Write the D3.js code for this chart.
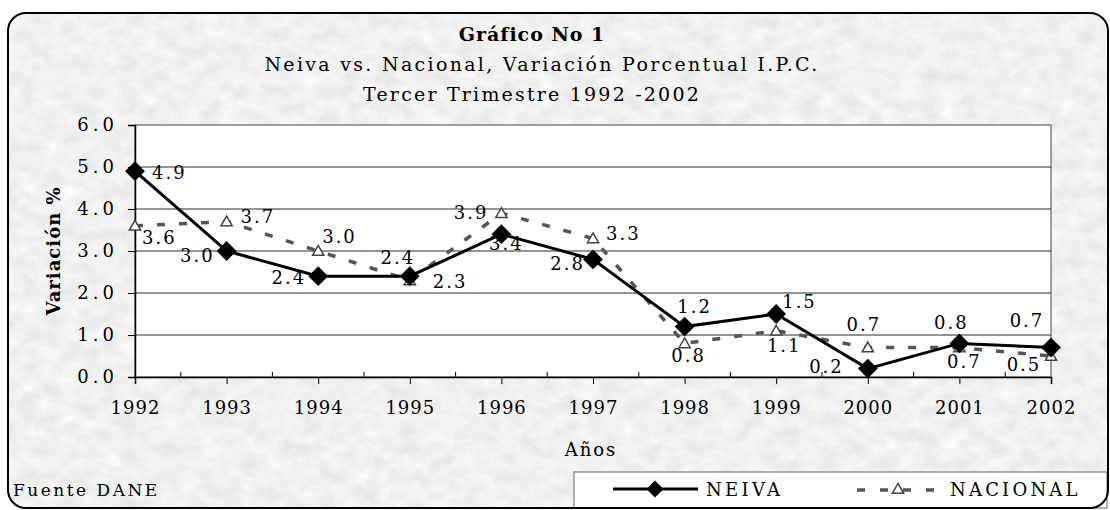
<!DOCTYPE html>
<html>
<head>
<meta charset="utf-8">
<script src="https://cdn.jsdelivr.net/npm/d3@7"></script>
<style>
  body { margin: 0; background: #fff; }
  text { font-family: "DejaVu Serif", serif; fill: #000; }
</style>
</head>
<body>
<script>

// data
var years = ["1992", "1993", "1994", "1995", "1996", "1997", "1998", "1999", "2000", "2001", "2002"];
var neiva = [4.9, 3.0, 2.4, 2.4, 3.4, 2.8, 1.2, 1.5, 0.2, 0.8, 0.7];
var nacional = [3.6, 3.7, 3.0, 2.3, 3.9, 3.3, 0.8, 1.1, 0.7, 0.7, 0.5];
var yTicks = [0, 1, 2, 3, 4, 5, 6];

// where each data label sits next to its point (dx, dy, anchor)
var neivaLabelPos = [[17, 8, "start"], [-12, 11, "end"], [-12, 8, "end"], [-12, -12, "middle"], [5, 16, "middle"],
                     [-8, 11, "end"], [10, -14, "middle"], [6, -6, "start"], [-24, 4, "end"], [-8, -14, "middle"], [-24, -21, "middle"]];
var nacionalLabelPos = [[7, 18, "start"], [14, 1, "start"], [4, -8, "start"], [23, 8, "start"], [-13, 6, "end"],
                        [13, 2, "start"], [4, 19, "middle"], [8, 21, "middle"], [-4, -17, "middle"], [5, 20, "middle"], [-27, 15, "middle"]];

var width = 1110;
var height = 510;
var margin = {left: 135, right: 59, top: 125, bottom: 133};

var svg = d3.select("body")
            .append("svg")
            .attr("width", width)
            .attr("height", height);

// marble like grey paper for the chart background
var defs = svg.append("defs");
var filter = defs.append("filter")
                 .attr("id", "marble")
                 .attr("x", 0).attr("y", 0)
                 .attr("width", "100%").attr("height", "100%");
filter.append("feTurbulence")
      .attr("type", "fractalNoise")
      .attr("baseFrequency", "0.05 0.07")
      .attr("numOctaves", 4)
      .attr("seed", 7);
filter.append("feColorMatrix")
      .attr("type", "matrix")
      .attr("values", "0.24 0 0 0 0.755  0.24 0 0 0 0.755  0.24 0 0 0 0.755  0 0 0 0 1");
filter.append("feComposite")
      .attr("in2", "SourceGraphic")
      .attr("operator", "in");

svg.append("rect")
   .attr("x", 8).attr("y", 13)
   .attr("width", 1100).attr("height", 495)
   .attr("rx", 18).attr("ry", 18)
   .attr("fill", "#dcdcdc")
   .attr("filter", "url(#marble)");

// scales
var xScale = d3.scalePoint()
               .domain(years)
               .range([margin.left, width - margin.right]);

var yScale = d3.scaleLinear()
               .domain([0, 6])
               .range([height - margin.bottom, margin.top]);

// white plot area
svg.append("rect")
   .attr("x", margin.left)
   .attr("y", margin.top)
   .attr("width", width - margin.right - margin.left)
   .attr("height", yScale(0) - margin.top)
   .attr("fill", "#fff")
   .attr("stroke", "#808080")
   .attr("stroke-width", 1.5);

// gridlines
svg.selectAll("line.grid")
   .data(yTicks.slice(1, 6))
   .enter()
   .append("line")
   .attr("class", "grid")
   .attr("x1", margin.left)
   .attr("x2", width - margin.right)
   .attr("y1", function(d) { return yScale(d); })
   .attr("y2", function(d) { return yScale(d); })
   .attr("stroke", "#2a2a2a")
   .attr("stroke-width", 1);

// y axis
var yAxis = d3.axisLeft(yScale)
              .tickValues(yTicks)
              .tickFormat(d3.format(".1f"))
              .tickSizeOuter(0)
              .tickSize(7)
              .tickPadding(10);

var yG = svg.append("g")
            .attr("transform", "translate(" + margin.left + ",0)")
            .call(yAxis);
yG.select(".domain").attr("stroke", "#000").attr("stroke-width", 1.5);
yG.selectAll("text")
  .style("font-family", "DejaVu Serif")
  .style("font-size", "18px")
  .style("letter-spacing", "4px")
  .attr("fill", "#000");

// x axis, major ticks outside on the years
var xAxis = d3.axisBottom(xScale)
              .tickSizeOuter(0)
              .tickSize(7)
              .tickPadding(17);

var xG = svg.append("g")
            .attr("transform", "translate(0," + yScale(0) + ")")
            .call(xAxis);
xG.select(".domain").attr("stroke", "#000").attr("stroke-width", 1.5);
xG.selectAll("text")
  .style("font-family", "DejaVu Serif")
  .style("font-size", "18px")
  .style("letter-spacing", "1px")
  .attr("fill", "#000");

// minor ticks inside, between the years
var step = xScale.step();
svg.selectAll("line.minor")
   .data(years.slice(1))
   .enter()
   .append("line")
   .attr("class", "minor")
   .attr("x1", function(d) { return xScale(d) - step / 2; })
   .attr("x2", function(d) { return xScale(d) - step / 2; })
   .attr("y1", yScale(0))
   .attr("y2", yScale(0) - 5)
   .attr("stroke", "#000");

// nacional dashed line with open triangles
var line = d3.line()
             .x(function(d, i) { return xScale(years[i]); })
             .y(function(d) { return yScale(d); });

svg.append("path")
   .datum(nacional)
   .attr("d", line)
   .attr("fill", "none")
   .attr("stroke", "#555")
   .attr("stroke-width", 3.5)
   .attr("stroke-dasharray", "8,14");

var triangle = d3.symbol().type(d3.symbolTriangle).size(55);

svg.selectAll("path.tri")
   .data(nacional)
   .enter()
   .append("path")
   .attr("class", "tri")
   .attr("d", triangle)
   .attr("transform", function(d, i) {
     return "translate(" + xScale(years[i]) + "," + (yScale(d) + 1) + ")";
   })
   .attr("fill", "#fff")
   .attr("stroke", "#444")
   .attr("stroke-width", 1.5);

// neiva solid line with diamonds
svg.append("path")
   .datum(neiva)
   .attr("d", line)
   .attr("fill", "none")
   .attr("stroke", "#000")
   .attr("stroke-width", 3);

svg.selectAll("rect.dia")
   .data(neiva)
   .enter()
   .append("rect")
   .attr("class", "dia")
   .attr("x", -7).attr("y", -7)
   .attr("width", 14).attr("height", 14)
   .attr("transform", function(d, i) {
     return "translate(" + xScale(years[i]) + "," + yScale(d) + ") rotate(45)";
   })
   .attr("fill", "#000");

// data labels
var fmt = d3.format(".1f");

function addLabels(values, pos) {
  svg.selectAll(null)
     .data(values)
     .enter()
     .append("text")
     .attr("x", function(d, i) { return xScale(years[i]) + pos[i][0]; })
     .attr("y", function(d, i) { return yScale(d) + pos[i][1]; })
     .attr("text-anchor", function(d, i) { return pos[i][2]; })
     .style("font-size", "18px")
     .style("letter-spacing", "2px")
     .text(function(d) { return fmt(d); });
}
addLabels(neiva, neivaLabelPos);
addLabels(nacional, nacionalLabelPos);

// titles
svg.append("text")
   .attr("x", 532).attr("y", 41)
   .attr("text-anchor", "middle")
   .style("font-size", "19px")
   .style("font-weight", "bold")
   .style("letter-spacing", "1px")
   .text("Gráfico No 1");

svg.append("text")
   .attr("x", 542).attr("y", 71)
   .attr("text-anchor", "middle")
   .style("font-size", "19px")
   .style("letter-spacing", "2.3px")
   .text("Neiva vs. Nacional, Variación Porcentual I.P.C.");

svg.append("text")
   .attr("x", 532).attr("y", 101)
   .attr("text-anchor", "middle")
   .style("font-size", "19px")
   .style("letter-spacing", "2.2px")
   .text("Tercer Trimestre 1992 -2002");

// axis titles
svg.append("text")
   .attr("transform", "translate(60,251) rotate(-90)")
   .attr("text-anchor", "middle")
   .style("font-size", "18px")
   .style("font-weight", "bold")
   .style("letter-spacing", "1px")
   .text("Variación %");

svg.append("text")
   .attr("x", 591).attr("y", 456)
   .attr("text-anchor", "middle")
   .style("font-size", "18px")
   .style("letter-spacing", "2px")
   .text("Años");

svg.append("text")
   .attr("x", 13).attr("y", 496)
   .style("font-size", "17px")
   .style("letter-spacing", "2.5px")
   .text("Fuente DANE");

// legend
var legend = svg.append("g").attr("transform", "translate(574,472)");

legend.append("rect")
      .attr("width", 533).attr("height", 36)
      .attr("fill", "#fff")
      .attr("stroke", "#666")
      .attr("stroke-width", 1);

legend.append("line")
      .attr("x1", 39).attr("x2", 124)
      .attr("y1", 17).attr("y2", 17)
      .attr("stroke", "#000").attr("stroke-width", 3);
legend.append("rect")
      .attr("x", -6).attr("y", -6)
      .attr("width", 12).attr("height", 12)
      .attr("transform", "translate(81,17) rotate(45)")
      .attr("fill", "#000");
legend.append("text")
      .attr("x", 132).attr("y", 24)
      .style("font-size", "18px")
      .style("letter-spacing", "3.3px")
      .text("NEIVA");

legend.append("line")
      .attr("x1", 283).attr("x2", 361)
      .attr("y1", 18).attr("y2", 18)
      .attr("stroke", "#555").attr("stroke-width", 3.5)
      .attr("stroke-dasharray", "8,15");
legend.append("path")
      .attr("d", triangle)
      .attr("transform", "translate(324,18)")
      .attr("fill", "#fff")
      .attr("stroke", "#444")
      .attr("stroke-width", 1.5);
legend.append("text")
      .attr("x", 376).attr("y", 24)
      .style("font-size", "18px")
      .style("letter-spacing", "3.2px")
      .text("NACIONAL");

// outer rounded frame on top
svg.append("rect")
   .attr("x", 8).attr("y", 13)
   .attr("width", 1100).attr("height", 495)
   .attr("rx", 18).attr("ry", 18)
   .attr("fill", "none")
   .attr("stroke", "#000")
   .attr("stroke-width", 2);

</script>
</body>
</html>
